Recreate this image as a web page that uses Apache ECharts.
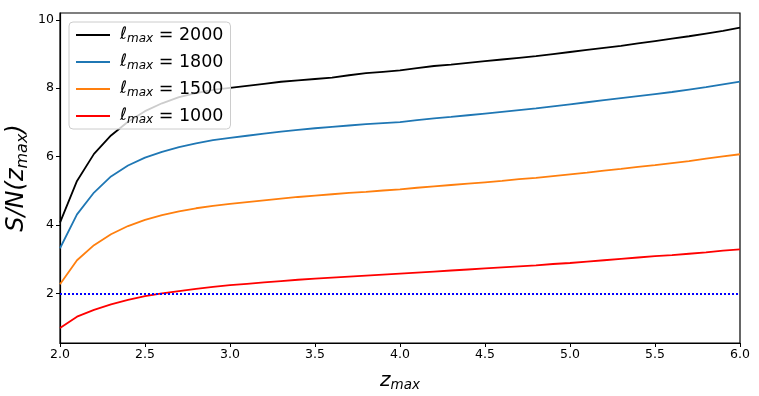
<!DOCTYPE html>
<html><head><meta charset="utf-8">
<script src="https://cdn.jsdelivr.net/npm/echarts@6/dist/echarts.min.js"></script>
<style>html,body{margin:0;padding:0;background:#fff}#c{width:759px;height:396px}</style>
</head><body><div id="c"></div>
<script>
const zMax = [2.0,2.1,2.2,2.3,2.4,2.5,2.6,2.7,2.8,2.9,3.0,3.1,3.2,3.3,3.4,3.5,3.6,3.7,3.8,3.9,4.0,4.1,4.2,4.3,4.4,4.5,4.6,4.7,4.8,4.9,5.0,5.1,5.2,5.3,5.4,5.5,5.6,5.7,5.8,5.9,6.0];
const sn2000 = [4.07,5.29,6.08,6.62,7.02,7.33,7.56,7.74,7.86,7.95,8.01,8.07,8.13,8.19,8.23,8.27,8.31,8.38,8.44,8.48,8.52,8.59,8.65,8.69,8.74,8.79,8.84,8.89,8.94,9.00,9.06,9.12,9.18,9.24,9.31,9.38,9.45,9.52,9.60,9.68,9.77];
const sn1800 = [3.32,4.31,4.95,5.42,5.74,5.97,6.14,6.28,6.39,6.48,6.55,6.61,6.67,6.73,6.78,6.83,6.87,6.91,6.95,6.98,7.01,7.07,7.12,7.16,7.21,7.26,7.31,7.36,7.41,7.47,7.53,7.59,7.65,7.71,7.77,7.83,7.89,7.96,8.03,8.11,8.19];
const sn1500 = [2.27,2.97,3.41,3.73,3.97,4.15,4.29,4.40,4.49,4.56,4.62,4.67,4.72,4.77,4.82,4.86,4.90,4.94,4.97,5.01,5.04,5.09,5.13,5.17,5.21,5.25,5.29,5.34,5.38,5.43,5.48,5.53,5.59,5.64,5.70,5.75,5.81,5.87,5.94,6.01,6.07];
const sn1000 = [0.99,1.32,1.52,1.68,1.81,1.92,2.00,2.07,2.13,2.19,2.24,2.28,2.32,2.36,2.40,2.43,2.46,2.49,2.52,2.55,2.58,2.61,2.64,2.67,2.70,2.73,2.76,2.79,2.82,2.86,2.89,2.93,2.97,3.01,3.05,3.09,3.12,3.16,3.20,3.25,3.29];
const lmaxLabels = ['2000','1800','1500','1000'];
const seriesColors = ['#000000','#1f77b4','#ff7f0e','#ff0000'];
const threshold = 2;
const yTicks = [2,4,6,8,10];

const allSeries = [sn2000, sn1800, sn1500, sn1000];
const FONT = 'DejaVu Sans';
const chart = echarts.init(document.getElementById('c'), null, {renderer:'canvas'});

const series = allSeries.map((arr, k) => ({
  name: 'lmax=' + lmaxLabels[k],
  type: 'line',
  data: zMax.map((z, i) => [z, arr[i]]),
  showSymbol: false,
  symbol: 'none',
  color: seriesColors[k],
  lineStyle: {width: 1.8, color: seriesColors[k]},
  animation: false,
  z: 3
}));
series[3].markLine = {
  silent: true, symbol: 'none', animation: false,
  label: {show: false},
  lineStyle: {color: '#0000ff', type: [2, 2], width: 2},
  data: [{yAxis: threshold}]
};

chart.setOption({
  animation: false,
  grid: {left: 60, right: 19, top: 13, bottom: 53, outerBoundsMode: 'none', containLabel: false,
         show: true, borderColor: '#000', borderWidth: 1.2, backgroundColor: 'transparent'},
  xAxis: {
    type: 'value', min: 2, max: 6, interval: 0.5,
    axisLine: {show: true, onZero: false, lineStyle: {color: '#000', width: 1.2}},
    axisTick: {show: true, length: 4, lineStyle: {color: '#000', width: 1}},
    axisLabel: {color: '#000', fontFamily: FONT, fontSize: 12.5, margin: 5, formatter: v => v.toFixed(1)},
    splitLine: {show: false},
    name: '{z|z}{s|max}', nameLocation: 'middle', nameGap: 26,
    nameTextStyle: {rich: {
      z: {fontFamily: FONT, fontStyle: 'italic', fontSize: 20, color: '#000', lineHeight: 24},
      s: {fontFamily: FONT, fontStyle: 'italic', fontSize: 13.5, color: '#000', padding: [9,0,0,0], lineHeight: 24}
    }}
  },
  yAxis: {
    type: 'value', min: 0.55, max: 10.2,
    axisLine: {show: true, onZero: false, lineStyle: {color: '#000', width: 1.2}},
    axisTick: {show: true, length: 4, customValues: yTicks, lineStyle: {color: '#000', width: 1}},
    axisLabel: {color: '#000', fontFamily: FONT, fontSize: 12.5, margin: 6, customValues: yTicks, formatter: v => String(v)},
    splitLine: {show: false},
    name: '{a|S/N(z}{s|max}{a|)}', nameLocation: 'middle', nameRotate: 90, nameGap: 28, nameMoveOverlap: false,
    nameTextStyle: {rich: {
      a: {fontFamily: FONT, fontStyle: 'italic', fontSize: 24, color: '#000', lineHeight: 30},
      s: {fontFamily: FONT, fontStyle: 'italic', fontSize: 16, color: '#000', padding: [11,0,0,0], lineHeight: 30}
    }}
  },
  legend: {
    data: series.map(s => s.name),
    orient: 'vertical', left: 69, top: 22,
    icon: 'rect', itemWidth: 34, itemHeight: 2, itemGap: 7,
    padding: [3, 7, 3, 7],
    backgroundColor: 'rgba(255,255,255,0.8)', borderColor: '#cccccc', borderWidth: 1, borderRadius: 4,
    formatter: name => '{l|ℓ}{s|max}{n| = ' + name.split('=')[1] + '}',
    textStyle: {rich: {
      l: {fontFamily: FONT, fontSize: 17, color: '#000', lineHeight: 17, padding: [0,0,0,5]},
      s: {fontFamily: FONT, fontStyle: 'italic', fontSize: 12, color: '#000', lineHeight: 17, padding: [8,0,0,0]},
      n: {fontFamily: FONT, fontSize: 17.5, color: '#000', lineHeight: 17}
    }},
    z: 10
  },
  series: series
});
</script></body></html>
